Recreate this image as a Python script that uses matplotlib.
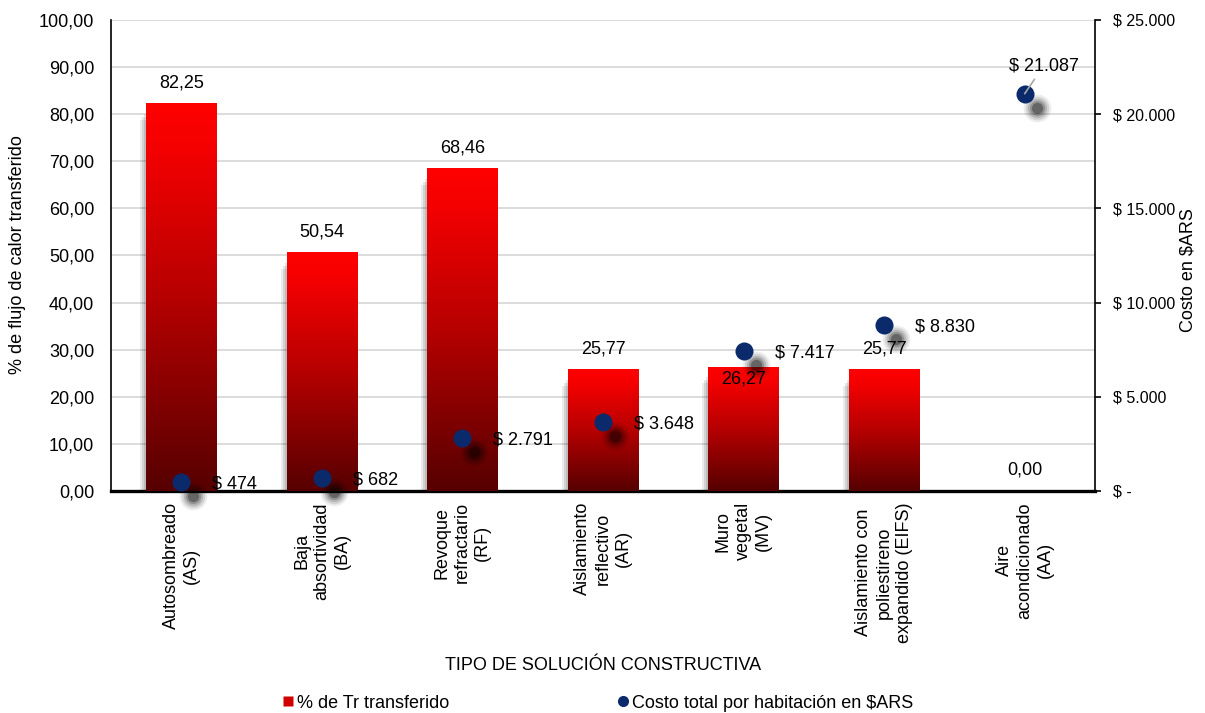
import numpy as np
import matplotlib.pyplot as plt
from matplotlib.colors import LinearSegmentedColormap
from matplotlib.transforms import offset_copy
from matplotlib.lines import Line2D
from matplotlib.ticker import FuncFormatter, MultipleLocator

plt.rcParams['font.family'] = ['Liberation Sans', 'DejaVu Sans']
plt.rcParams['font.size'] = 13

categorias = ["Autosombreado\n(AS)", "Baja\nabsortividad\n(BA)",
              "Revoque\nrefractario\n(RF)", "Aislamiento\nreflectivo\n(AR)",
              "Muro\nvegetal\n(MV)",
              "Aislamiento con\npoliestireno\nexpandido (EIFS)",
              "Aire\nacondicionado\n(AA)"]
flujo = [82.25, 50.54, 68.46, 25.77, 26.27, 25.77, 0.00]
costo = [474, 682, 2791, 3648, 7417, 8830, 21087]

AZUL = '#0a2a6b'


def coma(v):
    return f"{v:.2f}".replace(".", ",")


def pesos(v):
    if v == 0:
        return "$ -"
    return "$ " + f"{v:,.0f}".replace(",", ".")


fig = plt.figure(figsize=(12.05, 7.13), dpi=100)
ax = fig.add_axes([0.0921, 0.3114, 0.8166, 0.6606])
x = np.arange(len(categorias))
w = 0.5

# sombra gris de las barras (desplazada abajo a la izquierda)
for dx, dy, a in [(-2, -10, 0.10), (-4, -13, 0.10), (-6, -16, 0.08)]:
    ax.bar(x, flujo, w, color='black', alpha=a, linewidth=0, zorder=2,
           transform=offset_copy(ax.transData, fig=fig, x=dx, y=dy, units='dots'))

barras = ax.bar(x, flujo, w, color='red', linewidth=0, zorder=3)

rojo = LinearSegmentedColormap.from_list(
    'rojo', [(0, '#560000'), (0.5, '#b60000'), (0.88, '#f40000'), (1, '#ff0000')])
grad = np.linspace(0, 1, 256).reshape(-1, 1)
for b in barras:
    if b.get_height() <= 0:
        continue
    ax.imshow(grad, origin='lower', cmap=rojo, aspect='auto', zorder=3,
              extent=[b.get_x(), b.get_x() + b.get_width(), 0, b.get_height()],
              clip_path=b)

for xi, h in zip(x, flujo):
    dy = -12 if xi == 4 else 21
    ax.annotate(coma(h), (xi, h), xytext=(0, dy), textcoords='offset pixels',
                ha='center', va='center', zorder=6)

ax.set_xlim(-0.5, len(categorias) - 0.5)
ax.set_ylim(0, 100)
ax.yaxis.set_major_locator(MultipleLocator(10))
ax.yaxis.set_major_formatter(FuncFormatter(lambda v, p: coma(v)))
ax.grid(axis='y', color='#d9d9d9', linewidth=1.3, zorder=0)
ax.set_axisbelow(True)
ax.tick_params(axis='y', length=0, pad=12)
ax.set_xticks(x)
ax.set_xticklabels(categorias, rotation=90, linespacing=1.25)
for t in ax.get_xticklabels():
    t.set_multialignment('center')
ax.tick_params(axis='x', length=0, pad=8)
ax.spines['top'].set_visible(False)
ax.spines['right'].set_visible(False)
ax.spines['left'].set_color('black')
ax.spines['left'].set_linewidth(1.2)
ax.spines['bottom'].set_color('black')
ax.spines['bottom'].set_linewidth(2.4)

# eje secundario: costo
ax2 = ax.twinx()
ax2.set_ylim(0, 25000)
ax2.yaxis.set_major_locator(MultipleLocator(5000))
ax2.yaxis.set_major_formatter(FuncFormatter(lambda v, p: pesos(v)))
ax2.tick_params(axis='y', direction='out', length=4, width=1.2, pad=9,
                labelsize=11.5)
for s in ['top', 'left', 'bottom']:
    ax2.spines[s].set_visible(False)
ax2.spines['right'].set_color('black')
ax2.spines['right'].set_linewidth(1.2)

sombra = offset_copy(ax2.transData, fig=fig, x=12, y=-14, units='dots')
for ms, a in [(20, 0.07), (17, 0.10), (14, 0.14), (11, 0.2), (8, 0.3)]:
    ax2.plot(x, costo, 'o', ms=ms, color='black', alpha=a, mec='none',
             transform=sombra, clip_on=False, zorder=4)
ax2.plot(x, costo, 'o', ms=13, color=AZUL, mec='none', clip_on=False, zorder=5)

for xi, c in zip(x, costo):
    if c == max(costo):
        ax2.annotate(pesos(c), (xi, c), xytext=(19, 28), textcoords='offset pixels',
                     ha='center', va='center', zorder=6,
                     arrowprops=dict(arrowstyle='-', color='#a6a6a6', lw=1.2,
                                     shrinkA=2, shrinkB=0))
    else:
        ax2.annotate(pesos(c), (xi, c), xytext=(31, -2), textcoords='offset pixels',
                     ha='left', va='center', zorder=6)

fig.text(18 / 1205, 1 - 255 / 713, "% de flujo de calor transferido",
         rotation=90, ha='center', va='center')
fig.text(1188 / 1205, 1 - 270 / 713, "Costo en $ARS",
         rotation=90, ha='center', va='center')
fig.text(603 / 1205, 1 - 665 / 713, "TIPO DE SOLUCIÓN CONSTRUCTIVA",
         ha='center', va='center')

handles = [Line2D([], [], marker='s', ls='', ms=7, mfc='#d00000', mec='none'),
           Line2D([], [], marker='o', ls='', ms=8, mfc=AZUL, mec='none')]
fig.legend(handles, ["% de Tr transferido", "Costo total por habitación en $ARS"],
           loc='center', bbox_to_anchor=(598 / 1205, 1 - 703 / 713), ncol=2,
           frameon=False, columnspacing=9.3, handlelength=0.6, handletextpad=0.2,
           borderpad=0)

fig.savefig("out.png", dpi=100)
